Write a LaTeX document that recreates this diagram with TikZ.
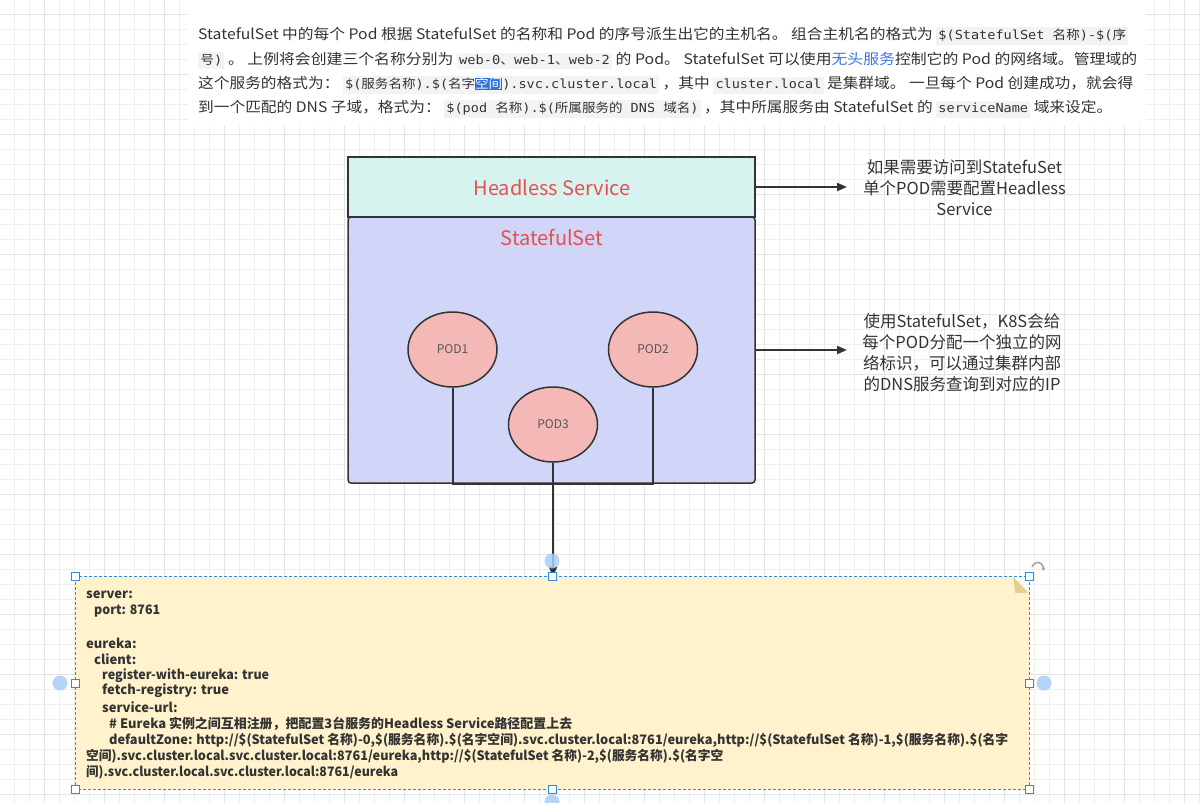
\documentclass[tikz,border=0pt]{standalone}
\usepackage{fontspec}
\usepackage{graphicx}
\usetikzlibrary{shapes.geometric,arrows.meta}
\setmainfont{Noto Sans CJK SC}
\newfontfamily\cjk{Noto Sans CJK SC}
\setmonofont{DejaVu Sans Mono}
\definecolor{gridminor}{HTML}{EEEEEE}
\definecolor{gridmajor}{HTML}{E3E3E3}
\definecolor{linec}{HTML}{333333}
\definecolor{hsfill}{HTML}{D7F3EF}
\definecolor{ssfill}{HTML}{D1D5F7}
\definecolor{podfill}{HTML}{F4B9B6}
\definecolor{podtext}{HTML}{555555}
\definecolor{titlered}{HTML}{E5504E}
\definecolor{sidetext}{HTML}{333333}
\definecolor{hdrtext}{HTML}{333333}
\definecolor{codebg}{HTML}{F3F3F3}
\definecolor{linkblue}{HTML}{3B73E8}
\definecolor{hlblue}{HTML}{2E6FDB}
\definecolor{notefill}{HTML}{FFF2CC}
\definecolor{foldc}{HTML}{E2CF92}
\definecolor{notetext}{HTML}{333333}
\definecolor{selblue}{HTML}{2A8BE0}
\definecolor{bubblefill}{HTML}{A9CDF7}
\newcommand\cd[1]{{\setlength{\fboxsep}{2pt}\colorbox{codebg}{\ttfamily\fontsize{12.5}{14}\selectfont\vphantom{Ag}#1}}}
\newcommand\fitw[2]{\resizebox{#1}{\height}{#2}}
\begin{document}
\begin{tikzpicture}[x=1pt,y=-1pt,
  box/.style={draw=linec, line width=1.5pt},
  pod/.style={ellipse, draw=linec, line width=1.5pt, fill=podfill, minimum width=89pt, minimum height=75pt, inner sep=0pt, font=\fontsize{12}{14}\selectfont, text=podtext},
  conn/.style={draw=linec, line width=2pt},
  arr/.style={conn, -{Triangle[length=10pt,width=8pt]}},
  side/.style={align=center, font=\fontsize{16.5}{21}\selectfont, text=sidetext},
  ntxt/.style={anchor=west, inner sep=0pt, font=\bfseries\fontsize{13}{16}\selectfont, text=notetext},
  hdr/.style={anchor=west, inner sep=0pt, font=\fontsize{14.5}{17}\selectfont, text=hdrtext},
  title/.style={font=\fontsize{20}{24}\selectfont, text=titlered, inner sep=0pt},
  handle/.style={rectangle, draw=selblue, fill=white, line width=1pt, minimum size=8pt, inner sep=0pt},
  bubble/.style={circle, fill=bubblefill, minimum size=15pt, inner sep=0pt, opacity=0.85}]
\useasboundingbox (0,0) rectangle (1200,803);
\fill[white] (0,0) rectangle (1200,803);
% grid
\foreach \i in {0,...,79} {\pgfmathsetmacro\xx{14.3+15*\i}\draw[gridminor, line width=0.8pt] (\xx,0) -- (\xx,803);}
\foreach \i in {0,...,53} {\pgfmathsetmacro\yy{14.3+15*\i}\draw[gridminor, line width=0.8pt] (0,\yy) -- (1200,\yy);}
\foreach \i in {0,...,19} {\pgfmathsetmacro\xx{44.3+60*\i}\draw[gridmajor, line width=0.9pt] (\xx,0) -- (\xx,803);}
\foreach \i in {0,...,13} {\pgfmathsetmacro\yy{14.3+60*\i}\draw[gridmajor, line width=0.9pt] (0,\yy) -- (1200,\yy);}
\fill[white] (188,0) rectangle (1146,126);
% header text
\node[hdr] (h1) at (198,36) {\fitw{930pt}{StatefulSet 中的每个 Pod 根据 StatefulSet 的名称和 Pod 的序号派生出它的主机名。 组合主机名的格式为 \cd{\$(StatefulSet {\cjk 名称})-\$({\cjk 序}}}};
\node[hdr] (h2) at (198,60.5) {\fitw{939pt}{\cd{{\cjk 号})} 。 上例将会创建三个名称分别为 \cd{web-0{\cjk 、}web-1{\cjk 、}web-2} 的 Pod。 StatefulSet 可以使用\textcolor{linkblue}{无头服务}控制它的 Pod 的网络域。管理域的}};
\node[hdr] (h3) at (198,85) {\fitw{935pt}{这个服务的格式为： \cd{\$({\cjk 服务名称}).\$({\cjk 名字}{\setlength{\fboxsep}{0pt}\colorbox{hlblue}{\textcolor{white}{\cjk 空间}}}).svc.cluster.local} ，其中 \cd{cluster.local} 是集群域。 一旦每个 Pod 创建成功，就会得}};
\node[hdr] (h4) at (198,109) {\fitw{914pt}{到一个匹配的 DNS 子域，格式为： \cd{\$(pod {\cjk 名称}).\$({\cjk 所属服务的} DNS {\cjk 域名})} ，其中所属服务由 StatefulSet 的 \cd{serviceName} 域来设定。}};
% boxes
\node[box, fill=ssfill, rounded corners=3pt, minimum width=407pt, minimum height=266pt, inner sep=0pt] (ss) at (551.5,350) {};
\node[box, fill=hsfill, minimum width=407pt, minimum height=60pt, inner sep=0pt] (hs) at (551.5,187) {};
\node[title] (hstitle) at (552,188) {Headless Service};
\node[title] (sstitle) at (552,238) {StatefulSet};
% pods
\node[pod] (pod1) at (452.5,349.5) {POD1};
\node[pod] (pod2) at (653,349.5) {POD2};
\node[pod] (pod3) at (553,424.5) {POD3};
% note
\node[minimum width=953pt, minimum height=212pt, inner sep=0pt] (note) at (552.5,683) {};
\fill[notefill] (note.north west) -- ([xshift=-16pt]note.north east) -- ([yshift=-16pt]note.north east) -- (note.south east) -- (note.south west) -- cycle;
\fill[foldc] ([xshift=-16pt]note.north east) -- ([xshift=-1pt,yshift=-16pt]note.north east) -- ([xshift=-14pt,yshift=-16pt]note.north east) -- cycle;
\draw[selblue, line width=1pt, dash pattern=on 3pt off 2pt] (note.north west) rectangle (note.south east);
% connectors
\draw[conn] (pod1.south) -- (pod1.south |- ss.south) -- (pod3.south |- ss.south);
\draw[conn] (pod2.south) -- (pod2.south |- ss.south) -- (pod3.south |- ss.south);
\draw[arr] (pod3.south) -- (pod3.south |- note.north);
% side texts
\node[side] (t1) at (964.5,188) {如果需要访问到StatefuSet\\单个POD需要配置Headless\\Service};
\node[side] (t2) at (962,352.5) {使用StatefulSet，K8S会给\\每个POD分配一个独立的网\\络标识，可以通过集群内部\\的DNS服务查询到对应的IP};
\coordinate (a1) at (847,187);
\coordinate (a2) at (847,350);
\draw[arr] (hs.east) -- (a1);
\draw[arr] (ss.east) -- (a2);
% note text
\node[ntxt] (n1) at (86,595) {server:};
\node[ntxt] (n2) at (94,611) {\fitw{66pt}{port: 8761}};
\node[ntxt] (n3) at (86,643) {eureka:};
\node[ntxt] (n4) at (94,659) {client:};
\node[ntxt] (n5) at (102,675.5) {\fitw{167pt}{register-with-eureka: true}};
\node[ntxt] (n6) at (102,691) {fetch-registry: true};
\node[ntxt] (n7) at (102,707) {service-url:};
\node[ntxt] (n8) at (109,723.5) {\fitw{463pt}{\# Eureka 实例之间互相注册，把配置3台服务的Headless Service路径配置上去}};
\node[ntxt] (n9) at (109,740) {\fitw{899pt}{defaultZone: http://\$(StatefulSet 名称)-0,\$(服务名称).\$(名字空间).svc.cluster.local:8761/eureka,http://\$(StatefulSet 名称)-1,\$(服务名称).\$(名字}};
\node[ntxt] (n10) at (86,756.5) {\fitw{637pt}{空间).svc.cluster.local.svc.cluster.local:8761/eureka,http://\$(StatefulSet 名称)-2,\$(服务名称).\$(名字空}};
\node[ntxt] (n11) at (86,772.5) {\fitw{312pt}{间).svc.cluster.local.svc.cluster.local:8761/eureka}};
% selection handles
\node[bubble] (b1) at (552,561) {};
\node[bubble] (b2) at (60,683) {};
\node[bubble] (b3) at (1044,683) {};
\node[bubble] (b4) at (552,802) {};
\node[handle] (s1) at (note.north west) {};
\node[handle] (s2) at (note.north) {};
\node[handle] (s3) at (note.north east) {};
\node[handle] (s4) at (note.west) {};
\node[handle] (s5) at (note.east) {};
\node[handle] (s6) at (note.south west) {};
\node[handle] (s7) at (note.south) {};
\node[handle] (s8) at (note.south east) {};
\draw[gray!70, line width=1.6pt, -{Stealth[length=3.5pt,width=4pt]}] (1032,567) .. controls (1035,560) and (1043,561) .. (1043.5,571);
\end{tikzpicture}
\end{document}
